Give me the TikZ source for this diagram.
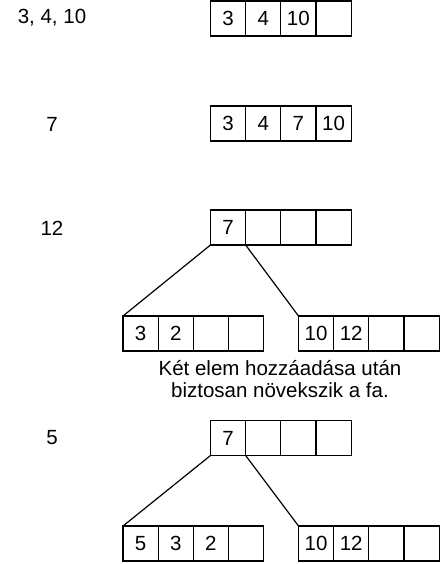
\documentclass[tikz,border=0pt]{standalone}
\usepackage{fontspec}
\setmainfont{Liberation Sans}
\newcommand\cellrow[7]{%
  \node[cell] (#1a) at (#2,#3) {#4};
  \node[cell] (#1b) at (#1a.north east) {#5};
  \node[cell] (#1c) at (#1b.north east) {#6};
  \node[cell] (#1d) at (#1c.north east) {#7};
}
\begin{document}
\begin{tikzpicture}[x=1pt,y=-1pt,
  txt/.style={font=\fontsize{20.5}{22.5}\selectfont},
  cell/.style={draw, line width=1.2pt, minimum width=35.15pt, minimum height=35pt,
    inner sep=0pt, outer sep=0pt, anchor=north west, txt},
  edge/.style={line width=1.2pt}]
\useasboundingbox (0,0) rectangle (441,564);
% row 1
\node[txt] (l1) at (52,18) {3, 4, 10};
\cellrow{ra}{210.5}{1}{3}{4}{10}{}
% row 2
\node[txt] (l2) at (52,124) {7};
\cellrow{rb}{210.5}{106}{3}{4}{7}{10}
% row 3
\node[txt] (l3) at (52,228) {12};
\cellrow{rc}{210.5}{210}{7}{}{}{}
\cellrow{pc}{123}{316}{3}{2}{}{}
\cellrow{qc}{298.5}{316}{10}{12}{}{}
\draw[edge] (rca.south west) -- (pca.north west);
\draw[edge] (rcb.south west) -- (qca.north west);
\node[txt, align=center] (note) at (280,379) {Két elem hozzáadása után\\biztosan növekszik a fa.};
% row 4
\node[txt] (l4) at (52,438) {5};
\cellrow{rd}{210.5}{420.5}{7}{}{}{}
\cellrow{pd}{123}{526}{5}{3}{2}{}
\cellrow{qd}{298.5}{526}{10}{12}{}{}
\draw[edge] (rda.south west) -- (pda.north west);
\draw[edge] (rdb.south west) -- (qda.north west);
\end{tikzpicture}
\end{document}
